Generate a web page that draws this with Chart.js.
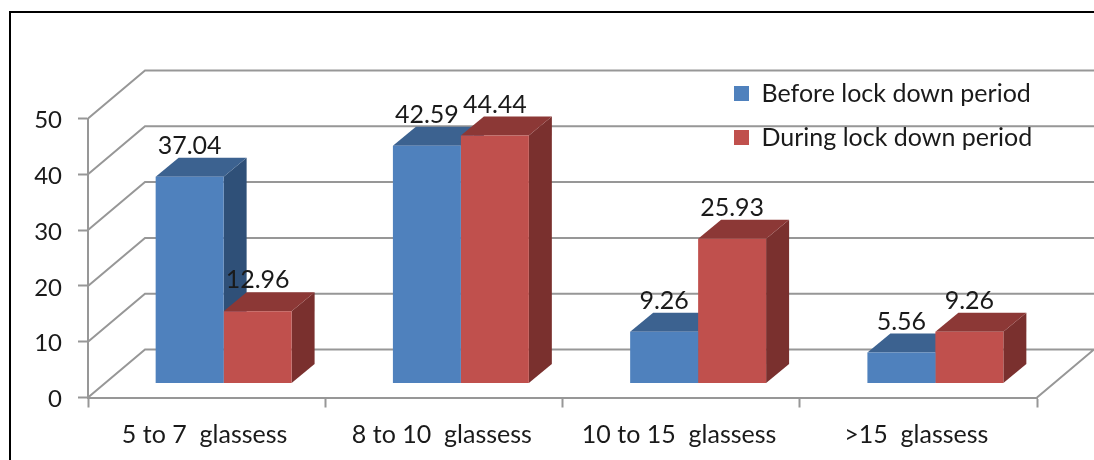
<!DOCTYPE html>
<html>
<head>
<meta charset="utf-8">
<title>Water intake</title>
<script src="https://cdn.jsdelivr.net/npm/chart.js@4"></script>
<style>
  html, body { margin: 0; background: #fff; overflow: hidden; }
  #wrap { position: relative; width: 1094px; height: 460px; }
  #frame { position: absolute; left: 9px; top: 11px; right: 0; bottom: 0; border-left: 2px solid #000; border-top: 2px solid #000; }
  canvas { position: absolute; left: 0; top: 0; }
</style>
</head>
<body>
<div id="wrap">
  <div id="frame"></div>
  <canvas id="chart" width="1094" height="460"></canvas>
</div>
<script>
const categories = ['5 to 7  glassess', '8 to 10  glassess', '10 to 15  glassess', '>15  glassess']
const beforeLockDown = [37.04, 42.59, 9.26, 5.56]
const duringLockDown = [12.96, 44.44, 25.93, 9.26]
const valueTicks = [0, 10, 20, 30, 40, 50]

const FONT = 'Lato, "Open Sans", sans-serif'
const TEXT = '#1a1a1a'
const GRID = '#979797'

// box depth of the plot and of the bars, in px
const WALL = { x: 57, y: -48 }
const SHIFT = { x: 17, y: -14 }
const BAR = { x: 23, y: -19 }

const faces = [
    { top: '#3c6290', side: '#2f5078' },
    { top: '#8c3836', side: '#7a302e' },
]

function poly(ctx, pts, color) {
    ctx.fillStyle = color
    ctx.beginPath()
    pts.forEach(([x, y], i) => (i ? ctx.lineTo(x, y) : ctx.moveTo(x, y)))
    ctx.closePath()
    ctx.fill()
}

const box3d = {
    id: 'box3d',
    afterLayout(chart) {
        // legend sits on the back wall, top right
        const lg = chart.legend
        lg.left = 715
        lg.right = 1094
        lg.top = 62
        lg.bottom = 220
    },
    beforeDraw(chart) {
        const { ctx, chartArea: a, scales: { y } } = chart
        ctx.save()
        ctx.strokeStyle = GRID
        ctx.lineWidth = 2
        ctx.beginPath()
        valueTicks.forEach((v) => {
            const py = y.getPixelForValue(v)
            ctx.moveTo(a.left, py)
            ctx.lineTo(a.left + WALL.x, py + WALL.y)
            ctx.lineTo(a.right + WALL.x, py + WALL.y)
        })
        // right edge of the floor
        ctx.moveTo(a.right, a.bottom)
        ctx.lineTo(a.right + WALL.x, a.bottom + WALL.y)
        ctx.stroke()
        ctx.restore()
    },
    beforeDatasetsDraw(chart) {
        const { ctx } = chart
        chart.data.datasets.forEach((ds, i) => {
            chart.getDatasetMeta(i).data.forEach((bar) => {
                const l = bar.x - bar.width / 2 + SHIFT.x
                const r = bar.x + bar.width / 2 + SHIFT.x
                const t = bar.y + SHIFT.y
                const b = bar.base + SHIFT.y
                poly(ctx, [[r, t], [r + BAR.x, t + BAR.y], [r + BAR.x, b + BAR.y], [r, b]], faces[i].side)
                poly(ctx, [[l, t], [l + BAR.x, t + BAR.y], [r + BAR.x, t + BAR.y], [r, t]], faces[i].top)
            })
        })
        // front faces are the chart's own bars, moved into the floor
        ctx.save()
        ctx.translate(SHIFT.x, SHIFT.y)
    },
    afterDatasetsDraw(chart) {
        const { ctx } = chart
        ctx.restore()
        ctx.save()
        ctx.font = '25px ' + FONT
        ctx.fillStyle = TEXT
        ctx.textAlign = 'center'
        ctx.textBaseline = 'middle'
        chart.data.datasets.forEach((ds, i) => {
            chart.getDatasetMeta(i).data.forEach((bar, j) => {
                ctx.fillText(ds.data[j].toFixed(2), bar.x + SHIFT.x, bar.y + SHIFT.y - 31)
            })
        })
        ctx.restore()
    },
}

new Chart(document.getElementById('chart'), {
    type: 'bar',
    plugins: [box3d],
    data: {
        labels: categories,
        datasets: [
            { label: 'Before lock down period', data: beforeLockDown, backgroundColor: '#4f81bd', clip: false },
            { label: 'During lock down period', data: duringLockDown, backgroundColor: '#c0504d', clip: false },
        ],
    },
    options: {
        responsive: false,
        animation: false,
        categoryPercentage: 0.573,
        barPercentage: 1,
        layout: { padding: { top: 118.5, right: 57, left: 0, bottom: 0 } },
        plugins: {
            tooltip: { enabled: false },
            legend: {
                position: 'chartArea',
                align: 'start',
                labels: {
                    boxWidth: 15,
                    boxHeight: 15,
                    padding: 19,
                    color: TEXT,
                    font: { family: FONT, size: 25 },
                },
            },
        },
        scales: {
            x: {
                afterFit: (s) => { s.height = 62.5 },
                border: { color: GRID, width: 2 },
                grid: { drawOnChartArea: false, tickLength: 10, tickColor: GRID, tickWidth: 2 },
                ticks: { color: TEXT, padding: 12, labelOffset: -2, maxRotation: 0, autoSkip: false, font: { family: FONT, size: 25 } },
            },
            y: {
                min: 0,
                max: 50,
                afterFit: (s) => { s.width = 88 },
                afterBuildTicks: (s) => { s.ticks = valueTicks.map((value) => ({ value })) },
                border: { color: GRID, width: 2 },
                grid: { drawOnChartArea: false, tickLength: 10, tickColor: GRID, tickWidth: 2 },
                ticks: { color: TEXT, padding: 16, labelOffset: 2, font: { family: FONT, size: 24 } },
            },
        },
    },
})
</script>
</body>
</html>
